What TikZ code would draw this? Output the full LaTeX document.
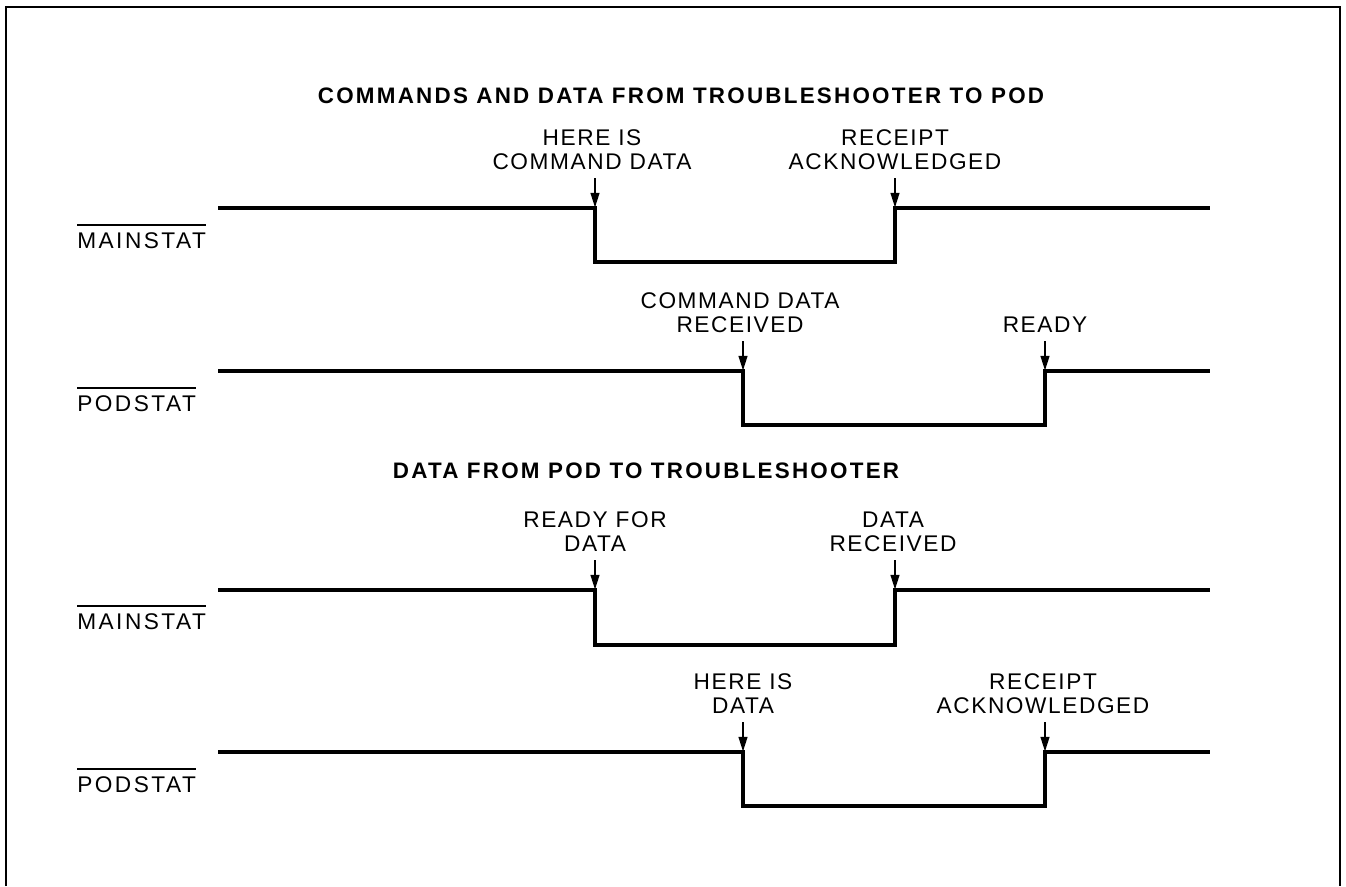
\documentclass[tikz,border=0pt]{standalone}
\usepackage{fontspec}
\setmainfont{Liberation Sans}[LetterSpace=7]
\usetikzlibrary{arrows.meta}
\tikzset{
  frame/.style={line width=2.2pt},
  signal/.style={line width=2.7pt, line join=miter, line cap=butt},
  evlabel/.style={align=center, inner sep=0pt, anchor=south, font=\fontsize{17}{18}\selectfont},
  evarrow/.style={line width=1.5pt, -{Triangle[length=11pt,width=6.5pt]}, shorten >=0.3pt},
  siglabel/.style={inner sep=0pt, anchor=base west, font=\fontsize{17}{18}\selectfont\addfontfeatures{LetterSpace=11}},
  titlelabel/.style={inner sep=0pt, anchor=base, font=\bfseries\fontsize{16.8}{18}\selectfont\addfontfeatures{LetterSpace=10}},
}
\newcommand{\ovl}[1]{\leavevmode\setbox0\hbox{#1}\rlap{\rule[\dimexpr\ht0+4.5pt\relax]{\wd0}{1.3pt}}\box0}
\begin{document}
\begin{tikzpicture}[x=0.75pt,y=-0.75pt]
\useasboundingbox (0,0) rectangle (1346,886);
% frame
\draw[frame] (6,886) -- (6,7) -- (1340,7) -- (1340,886);

% titles
\node[titlelabel] (t1) at (681,103) {COMMANDS AND DATA FROM TROUBLESHOOTER TO POD};
\node[titlelabel] (t2) at (646,478) {DATA FROM POD TO TROUBLESHOOTER};

% signal names
\node[siglabel] (sA) at (77,248) {\ovl{MAINSTAT}};
\node[siglabel] (sB) at (77,411) {\ovl{PODSTAT}};
\node[siglabel] (sC) at (77,629) {\ovl{MAINSTAT}};
\node[siglabel] (sD) at (77,792) {\ovl{PODSTAT}};

% edge coordinates
\coordinate (A0) at (218,208); \coordinate (A1) at (595,208); \coordinate (A2) at (895,208); \coordinate (A3) at (1210,208);
\coordinate (B0) at (218,371); \coordinate (B1) at (743,371); \coordinate (B2) at (1045,371); \coordinate (B3) at (1210,371);
\coordinate (C0) at (218,590); \coordinate (C1) at (595,590); \coordinate (C2) at (895,590); \coordinate (C3) at (1210,590);
\coordinate (D0) at (218,752); \coordinate (D1) at (743,752); \coordinate (D2) at (1045,752); \coordinate (D3) at (1210,752);

% signals
\draw[signal] (A0) -- (A1) -- (595,262) -- (895,262) -- (A2) -- (A3);
\draw[signal] (B0) -- (B1) -- (743,425) -- (1045,425) -- (B2) -- (B3);
\draw[signal] (C0) -- (C1) -- (595,645) -- (895,645) -- (C2) -- (C3);
\draw[signal] (D0) -- (D1) -- (743,806) -- (1045,806) -- (D2) -- (D3);

% event labels
\node[evlabel] (eA1) at (592,170) {HERE IS\\COMMAND DATA};
\node[evlabel] (eA2) at (895,170) {RECEIPT\\ACKNOWLEDGED};
\node[evlabel] (eB1) at (740,333) {COMMAND DATA\\RECEIVED};
\node[evlabel] (eB2) at (1045,333) {READY};
\node[evlabel] (eC1) at (595,552) {READY FOR\\DATA};
\node[evlabel] (eC2) at (893,552) {DATA\\RECEIVED};
\node[evlabel] (eD1) at (743,714) {HERE IS\\DATA};
\node[evlabel] (eD2) at (1043,714) {RECEIPT\\ACKNOWLEDGED};

% arrows
\draw[evarrow] (595,178) -- (A1);
\draw[evarrow] (895,178) -- (A2);
\draw[evarrow] (743,341) -- (B1);
\draw[evarrow] (1045,341) -- (B2);
\draw[evarrow] (595,560) -- (C1);
\draw[evarrow] (895,560) -- (C2);
\draw[evarrow] (743,722) -- (D1);
\draw[evarrow] (1045,722) -- (D2);
\end{tikzpicture}
\end{document}
